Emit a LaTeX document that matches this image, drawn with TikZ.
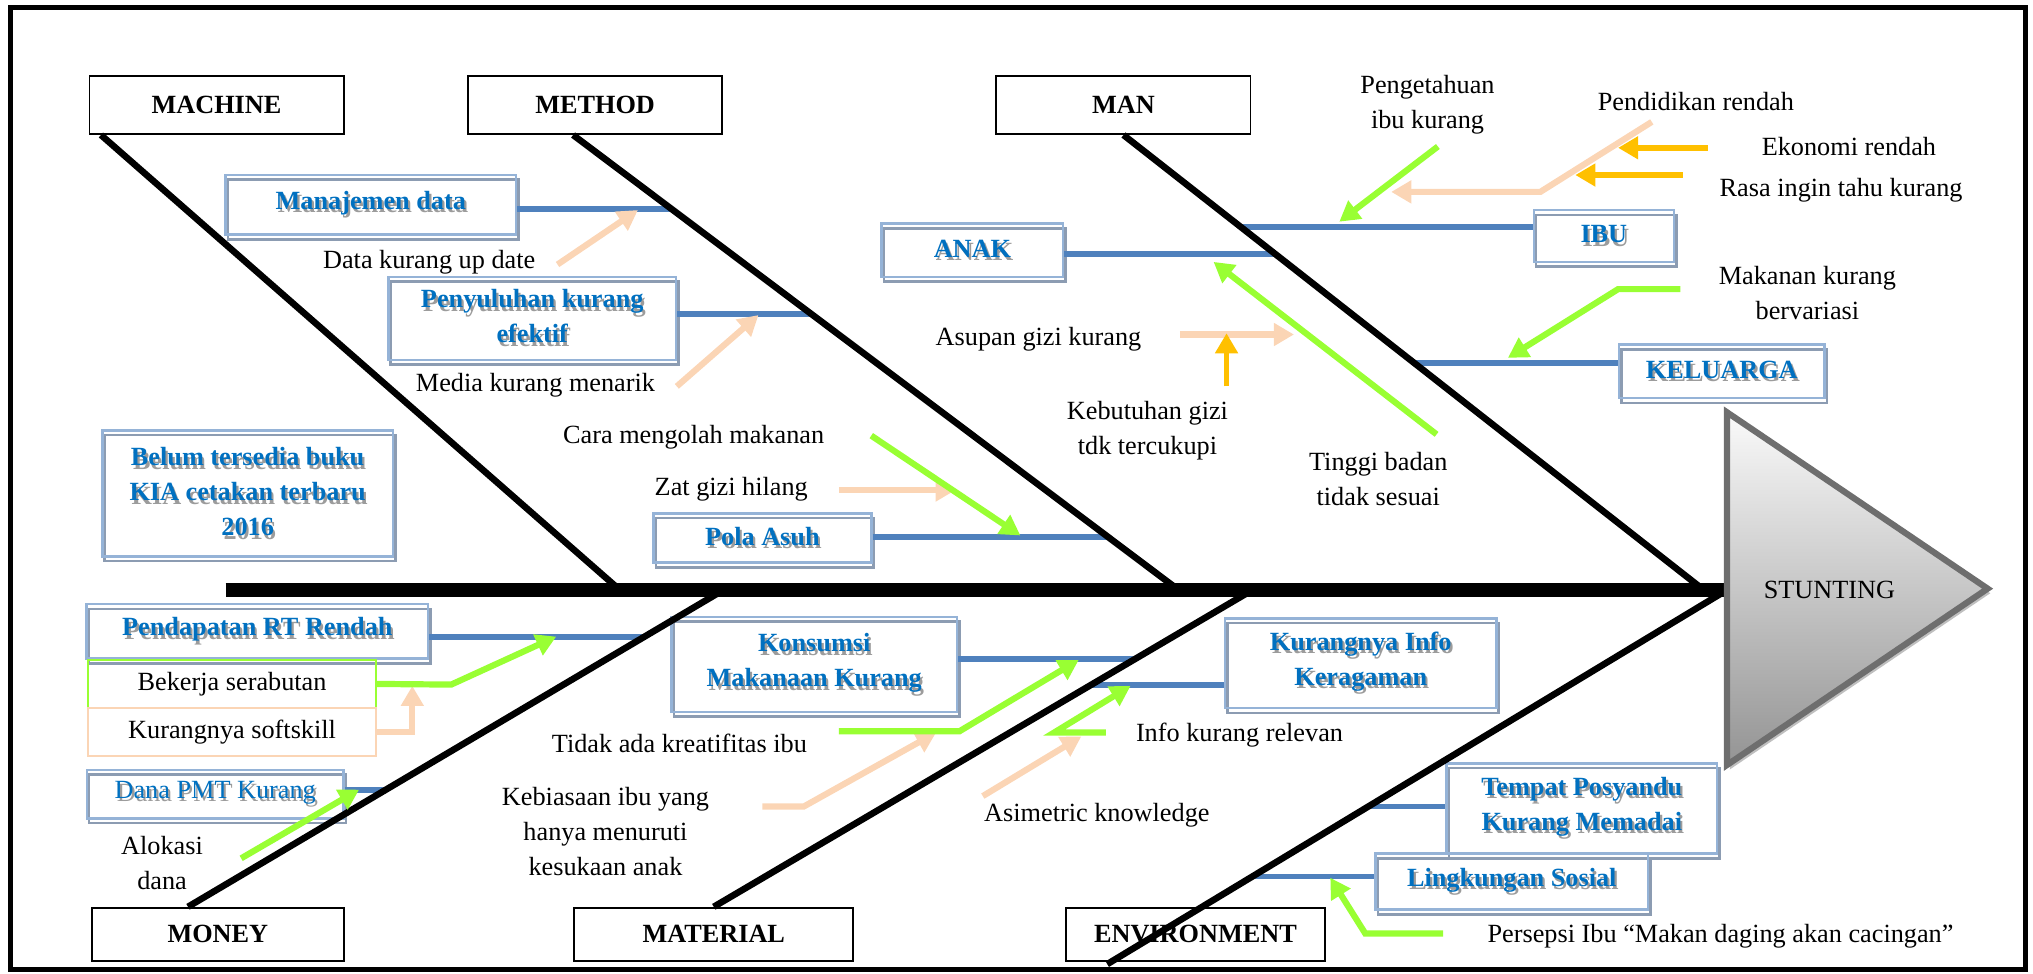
\documentclass[tikz,border=0pt]{standalone}
\usepackage{fontspec}
\setmainfont{Liberation Serif}
\usetikzlibrary{arrows.meta,calc,positioning,shadows}

\definecolor{ribblue}{HTML}{4F81BD}
\definecolor{frameblue}{HTML}{95B3D7}
\definecolor{framegray}{HTML}{8C9CB2}
\definecolor{titleblue}{HTML}{0070C0}
\definecolor{shadowgray}{HTML}{9C9C9C}
\definecolor{peach}{HTML}{FBD5B5}
\definecolor{grn}{HTML}{99FF33}
\definecolor{gold}{HTML}{FFC000}
\definecolor{trigray}{HTML}{6E6E6E}

\newcommand{\fbase}{\fontsize{14.4}{19.2}\selectfont}
% blue word-art text with a grey copy underneath
\newcommand{\wa}[1]{\makebox[0pt][l]{\hspace{1.2pt}\raisebox{-2pt}{\textcolor{shadowgray}{#1}}}#1}

\tikzset{
  cat/.style={draw, line width=1pt, minimum width=4.9cm, minimum height=1.12cm, font=\fbase\bfseries},
  wbox/.style={draw=frameblue, line width=1.4pt, align=center, inner sep=2pt, text=titleblue,
    font=\fbase\bfseries,
    preaction={draw=framegray, line width=1.4pt, transform canvas={shift={(1.3pt,-2.6pt)}}}},
  tbox/.style={draw=#1, line width=0.8pt, minimum width=5.55cm, minimum height=0.92cm},
  lbl/.style={align=center, inner sep=0pt},
  bone/.style={line width=3.6pt},
  spine/.style={line width=7.2pt},
  rib/.style={draw=ribblue, line width=3.2pt},
  headtip/.style={-{Triangle[length=11pt,width=12pt]}},
  parrow/.style={headtip, draw=peach, line width=3.4pt},
  garrow/.style={headtip, draw=grn, line width=3.4pt},
  oarrow/.style={headtip, draw=gold, line width=3pt},
  tri/.style={draw=trigray, line width=3.4pt, top color=black!2, bottom color=black!42,
    drop shadow={shadow xshift=1.5pt, shadow yshift=-2.5pt}}
}

\begin{document}
\begin{tikzpicture}[x=0.025cm, y=-0.025cm, every node/.style={font=\fbase}]
  \useasboundingbox (0,0) rectangle (1568,751);
  \draw[line width=2.8pt] (8,6) rectangle (1562,748);

  % categories
  \node[cat] (machine) at (167,81) {MACHINE};
  \node[cat] (method) at (459,81) {METHOD};
  \node[cat] (man) at (866.5,81) {MAN};
  \node[cat, minimum width=4.85cm, minimum height=1.02cm] (money) at (168,720.5) {MONEY};
  \node[cat, minimum width=5.38cm, minimum height=1.02cm] (material) at (550.5,720.5) {MATERIAL};
  \node[cat, minimum width=5cm, minimum height=1.02cm] (envir) at (922,720.5) {ENVIRONMENT};

  % causes
  \node[wbox, minimum width=5.6cm, minimum height=1.15cm] (mandata) at (286,158) {\wa{Manajemen data}};
  \node[wbox, minimum width=5.55cm, minimum height=1.6cm] (penyuluhan) at (410.5,245.5) {\wa{Penyuluhan kurang}\\\wa{efektif}};
  \node[wbox, minimum width=4.2cm, minimum height=0.95cm] (pola) at (588,415) {\wa{Pola Asuh}};
  \node[wbox, minimum width=3.5cm, minimum height=1.03cm] (anak) at (750,193) {\wa{ANAK}};
  \node[wbox, minimum width=2.7cm, minimum height=1cm] (ibu) at (1237,182) {\wa{IBU}};
  \node[wbox, minimum width=3.96cm, minimum height=1.03cm] (keluarga) at (1328,286.5) {\wa{KELUARGA}};
  \node[wbox, minimum width=5.6cm, minimum height=2.43cm] (kia) at (191,380.5) {\wa{Belum tersedia buku}\\\wa{KIA cetakan terbaru}\\\wa{2016}};
  \node[wbox, minimum width=6.58cm, minimum height=1.05cm] (pendapatan) at (198.5,487) {\wa{Pendapatan RT Rendah}};
  \node[wbox, font=\fbase, minimum width=4.95cm, minimum height=0.93cm] (danapmt) at (166,612.5) {\wa{Dana PMT Kurang}};
  \node[wbox, minimum width=5.5cm, minimum height=1.83cm] (konsumsi) at (628,512.5) {\wa{Konsumsi}\\\wa{Makanaan Kurang}};
  \node[wbox, minimum width=5.23cm, minimum height=1.73cm] (kurinfo) at (1049.5,511.5) {\wa{Kurangnya Info}\\\wa{Keragaman}};
  \node[wbox, minimum width=5.22cm, minimum height=1.74cm] (posyandu) at (1220,623.5) {\wa{Tempat Posyandu}\\\wa{Kurang Memadai}};
  \node[wbox, minimum width=5.25cm, minimum height=1.08cm] (lingkungan) at (1166,680) {\wa{Lingkungan Sosial}};

  \node[tbox=grn] (bekerja) at (179,527.5) {Bekerja serabutan};
  \node[tbox=peach] (softskill) at (179,564.5) {Kurangnya softskill};

  % sub causes
  \node[lbl] (datakurang) at (331,202) {Data kurang up date};
  \node[lbl] (media) at (413,297) {Media kurang menarik};
  \node[lbl] (caramasak) at (535,337) {Cara mengolah makanan};
  \node[lbl] (zatgizi) at (564,377) {Zat gizi hilang};
  \node[lbl] (asupan) at (801,262) {Asupan gizi kurang};
  \node[lbl] (kebutuhan) at (885,332) {Kebutuhan gizi\\tdk tercukupi};
  \node[lbl] (tinggi) at (1063,369.5) {Tinggi badan\\tidak sesuai};
  \node[lbl] (pengetahuan) at (1101,81) {Pengetahuan\\ibu kurang};
  \node[lbl] (pendidikan) at (1308,78) {Pendidikan rendah};
  \node[lbl] (ekonomi) at (1426,113) {Ekonomi rendah};
  \node[lbl] (rasaingin) at (1420,146.5) {Rasa ingin tahu kurang};
  \node[lbl] (makanan) at (1394,226) {Makanan kurang\\bervariasi};
  \node[lbl] (alokasi) at (125,666) {Alokasi\\dana};
  \node[lbl] (kreatif) at (524,573) {Tidak ada kreatifitas ibu};
  \node[lbl] (kebiasaan) at (467,641.5) {Kebiasaan ibu yang\\hanya menuruti\\kesukaan anak};
  \node[lbl] (inforel) at (956,567) {Info kurang relevan};
  \node[lbl] (asimetric) at (846,629) {Asimetric knowledge};
  \node[lbl] (persepsi) at (1327,722) {Persepsi Ibu “Makan daging akan cacingan”};

  % bone ends
  \coordinate (b1) at ([xshift=0.24cm]machine.south west);
  \coordinate (b2) at ([xshift=-0.425cm]method.south);
  \coordinate (b3) at (man.south);
  \coordinate (b4) at ([xshift=-0.575cm]money.north);
  \coordinate (b5) at (material.north);
  \coordinate (b6) at ([xshift=-1.7cm,yshift=-0.05cm]envir.south);
  \coordinate (s0) at (174,455);
  \coordinate (s1) at (478,455);
  \coordinate (s2) at (909,455);
  \coordinate (s3) at (1314,455);
  \coordinate (s4) at (558,455);
  \coordinate (s5) at (966,455);
  \coordinate (s6) at (1332,455);

  % rib ends on the bones
  \coordinate (r1) at (517.6,161);
  \coordinate (r2) at (625.4,242);
  \coordinate (r3) at (854.4,414);
  \coordinate (r4) at (983.6,196);
  \coordinate (r5) at (956.8,175);
  \coordinate (r6) at (1090.8,280);
  \coordinate (r7) at (497.2,491);
  \coordinate (r8) at (297.8,609);
  \coordinate (r9) at (875,508.5);
  \coordinate (r10) at (841.9,528);
  \coordinate (r11) at (1054.8,622);
  \coordinate (r12) at (965.2,676);

  \draw[rib] (mandata.east |- r1) -- (r1);
  \draw[rib] (penyuluhan.east |- r2) -- (r2);
  \draw[rib] (pola.east |- r3) -- (r3);
  \draw[rib] (anak.east |- r4) -- (r4);
  \draw[rib] (r5) -- (ibu.west |- r5);
  \draw[rib] (r6) -- (keluarga.west |- r6);
  \draw[rib] (pendapatan.east |- r7) -- (r7);
  \draw[rib] (danapmt.east |- r8) -- (r8);
  \draw[rib] (konsumsi.east |- r9) -- (r9);
  \draw[rib] (r10) -- (kurinfo.west |- r10);
  \draw[rib] (r11) -- (posyandu.west |- r11);
  \draw[rib] (r12) -- (lingkungan.west |- r12);

  \draw[bone] (b1) -- (s1);
  \draw[bone] (b2) -- (s2);
  \draw[bone] (b3) -- (s3);
  \draw[bone] (b4) -- (s4);
  \draw[bone] (b5) -- (s5);
  \draw[bone] (b6) -- (s6);
  \draw[spine] (s0) -- (s6);

  % head
  \coordinate (t1) at (1332,318);
  \coordinate (t2) at (1332,590);
  \coordinate (t3) at (1533,454);
  \draw[tri] (t1) -- (t3) -- (t2) -- cycle;
  \node (stunting) at (1411,455) {STUNTING};

  % peach arrows
  \coordinate (p1a) at (430,204);  \coordinate (p1b) at (492,162);
  \coordinate (p2a) at (522,298);  \coordinate (p2b) at (585,243);
  \coordinate (p3a) at (647,378);  \coordinate (p3b) at (737,378);
  \coordinate (p4a) at (910,258);  \coordinate (p4b) at (998,258);
  \coordinate (p5a) at (1274,94);  \coordinate (p5b) at (1188,148); \coordinate (p5c) at (1073,148);
  \coordinate (p6) at (318,529);
  \coordinate (p7a) at (588,622);  \coordinate (p7b) at (620,622);  \coordinate (p7c) at (722,565);
  \coordinate (p8a) at (758,614);  \coordinate (p8b) at (834,568);
  \draw[parrow] (p1a) -- (p1b);
  \draw[parrow] (p2a) -- (p2b);
  \draw[parrow] (p3a) -- (p3b);
  \draw[parrow] (p4a) -- (p4b);
  \draw[parrow] (p5a) -- (p5b) -- (p5c);
  \draw[parrow] (softskill.east) -| (p6);
  \draw[parrow] (p7a) -- (p7b) -- (p7c);
  \draw[parrow] (p8a) -- (p8b);

  % green arrows
  \coordinate (g1a) at (1109,113); \coordinate (g1b) at (1033,171);
  \coordinate (g2a) at (1108,335); \coordinate (g2b) at (936,202);
  \coordinate (g3a) at (672,336);  \coordinate (g3b) at (787,413);
  \coordinate (g4a) at (1296,223); \coordinate (g4b) at (1248,223); \coordinate (g4c) at (1163,276);
  \coordinate (g5a) at (348,528);  \coordinate (g5b) at (429,491);
  \coordinate (g6a) at (186,662);  \coordinate (g6b) at (277,609);
  \coordinate (g7a) at (647,564);  \coordinate (g7b) at (740,564);  \coordinate (g7c) at (832,509);
  \coordinate (g8a) at (853,565);  \coordinate (g8b) at (813,565);  \coordinate (g8c) at (872,529);
  \coordinate (g9a) at (1113,720); \coordinate (g9b) at (1053,720); \coordinate (g9c) at (1026,677);
  \draw[garrow] (g1a) -- (g1b);
  \draw[garrow] (g2a) -- (g2b);
  \draw[garrow] (g3a) -- (g3b);
  \draw[garrow] (g4a) -- (g4b) -- (g4c);
  \draw[garrow] (bekerja.east) -- (g5a) -- (g5b);
  \draw[garrow] (g6a) -- (g6b);
  \draw[garrow] (g7a) -- (g7b) -- (g7c);
  \draw[garrow] (g8a) -- (g8b) -- (g8c);
  \draw[garrow] (g9a) -- (g9b) -- (g9c);

  % orange arrows
  \coordinate (o1a) at (946,298);  \coordinate (o1b) at (946,257);
  \coordinate (o2a) at (1317,114); \coordinate (o2b) at (1248,114);
  \coordinate (o3a) at (1298,135); \coordinate (o3b) at (1215,135);
  \draw[oarrow] (o1a) -- (o1b);
  \draw[oarrow] (o2a) -- (o2b);
  \draw[oarrow] (o3a) -- (o3b);
\end{tikzpicture}
\end{document}
